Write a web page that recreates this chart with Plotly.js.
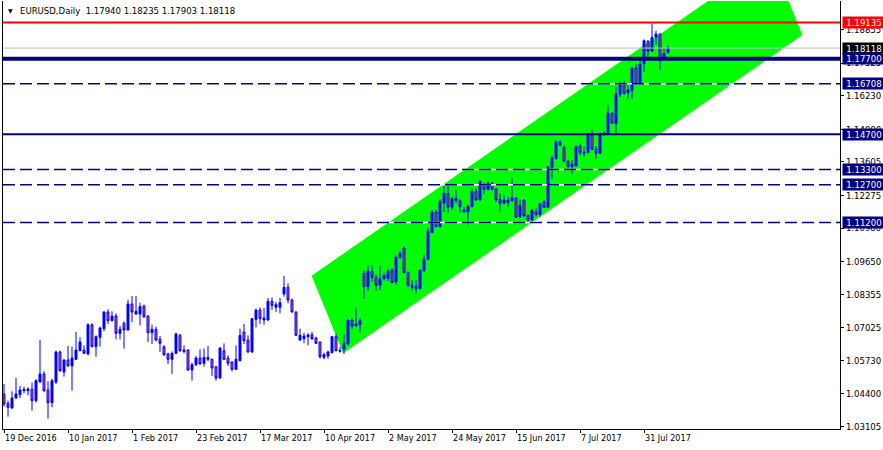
<!DOCTYPE html>
<html><head><meta charset="utf-8">
<script src="https://cdn.plot.ly/plotly-3.0.1.min.js"></script>
<style>html,body{margin:0;padding:0;background:#fff}#chart{width:883px;height:450px}</style>
</head><body><div id="chart"></div>
<script>
const symbol = "EURUSD,Daily";
const lastBarText = "1.17940 1.18235 1.17903 1.18118";
const dateLabels = ["19 Dec 2016","10 Jan 2017","1 Feb 2017","23 Feb 2017","17 Mar 2017","10 Apr 2017","2 May 2017","24 May 2017","15 Jun 2017","7 Jul 2017","31 Jul 2017"];
const dateLabelBars = [0,16,32,48,64,80,96,112,128,144,160];

const open = [
1.04397,1.04027,1.03842,1.04238,1.04371,1.04529,1.04529,1.04582,1.04133,1.04873,
1.05190,1.04556,1.04053,1.04873,1.06063,1.05270,1.05746,1.05508,1.05772,1.06116,
1.06142,1.05984,1.07147,1.06275,1.06645,1.06989,1.07650,1.07306,1.07491,1.06803,
1.07200,1.06936,1.07967,1.07570,1.07570,1.07887,1.07490,1.06829,1.06962,1.06565,
1.06274,1.05983,1.05772,1.06009,1.06724,1.06142,1.06142,1.05348,1.05560,1.05824,
1.05613,1.05772,1.05772,1.05481,1.05031,1.06115,1.05824,1.05666,1.05375,1.05719,
1.06856,1.06538,1.06062,1.07358,1.07728,1.07332,1.07332,1.08072,1.07834,1.07834,
1.08363,1.08627,1.08125,1.07649,1.06538,1.06591,1.06671,1.06750,1.06618,1.06459,
1.05851,1.05904,1.06036,1.06671,1.06089,1.06168,1.06380,1.07332,1.07094,1.07147,
1.09184,1.08655,1.09263,1.09025,1.08708,1.08972,1.08972,1.09316,1.08840,1.09818,
1.10188,1.09210,1.08628,1.08681,1.08575,1.09289,1.09739,1.10797,1.11616,1.11035,
1.11960,1.12357,1.11801,1.12066,1.12066,1.11616,1.11616,1.11828,1.12436,1.12092,
1.12700,1.12515,1.12753,1.12542,1.12119,1.11960,1.11986,1.12066,1.12171,1.11431,
1.12092,1.11484,1.11299,1.11643,1.11510,1.12013,1.11801,1.13388,1.13732,1.14393,
1.14181,1.13626,1.13520,1.13441,1.14234,1.13943,1.13970,1.14684,1.14102,1.13943,
1.14684,1.14710,1.15530,1.15107,1.16270,1.16667,1.16350,1.16429,1.17328,1.16693,
1.17487,1.18386,1.17989,1.18544,1.18677,1.17698,1.17940];
const high = [
1.04794,1.04133,1.04503,1.05032,1.04714,1.04688,1.04662,1.04847,1.04979,1.06539,
1.05296,1.04900,1.05005,1.06116,1.06116,1.05772,1.06301,1.06275,1.06856,1.06645,
1.06327,1.07200,1.07200,1.06724,1.07068,1.07676,1.07755,1.07676,1.07597,1.07094,
1.07279,1.08126,1.08284,1.08284,1.08019,1.07940,1.07517,1.07147,1.07067,1.06697,
1.06327,1.06036,1.06089,1.06829,1.06776,1.06327,1.06168,1.05639,1.05904,1.06168,
1.06195,1.06300,1.05798,1.05507,1.06248,1.06406,1.05930,1.05692,1.06327,1.06988,
1.07173,1.06724,1.07411,1.07781,1.07834,1.07808,1.08204,1.08231,1.08046,1.08204,
1.09077,1.08786,1.08178,1.07675,1.06988,1.06829,1.06803,1.06856,1.06671,1.06485,
1.06036,1.06115,1.06697,1.06776,1.06274,1.06776,1.07358,1.07385,1.07808,1.07412,
1.09289,1.09501,1.09501,1.09131,1.09474,1.09210,1.09369,1.09395,1.09898,1.10056,
1.10241,1.09263,1.08919,1.08919,1.09342,1.09924,1.10982,1.11696,1.11696,1.12119,
1.12674,1.12674,1.12225,1.12489,1.12119,1.11801,1.11907,1.12542,1.12568,1.12859,
1.12780,1.12833,1.12806,1.12568,1.12357,1.12277,1.12224,1.12965,1.12224,1.12119,
1.12119,1.11510,1.11722,1.11775,1.11986,1.12092,1.13441,1.13864,1.14472,1.14472,
1.14261,1.13679,1.13679,1.14261,1.14340,1.14208,1.14763,1.14895,1.14234,1.14789,
1.14816,1.15847,1.15583,1.16588,1.16799,1.16826,1.16640,1.17381,1.17487,1.17645,
1.18465,1.18439,1.19100,1.18809,1.18703,1.18121,1.18235];
const low = [
1.03895,1.03498,1.03815,1.04212,1.04238,1.04424,1.04344,1.03736,1.04053,1.04847,
1.04476,1.03419,1.03868,1.04794,1.05270,1.05085,1.05481,1.04529,1.05746,1.06089,
1.05984,1.05931,1.06248,1.05878,1.06275,1.06883,1.07174,1.07279,1.06565,1.06565,
1.06195,1.06909,1.07253,1.07544,1.07120,1.07411,1.06459,1.06380,1.06485,1.06062,
1.05904,1.05586,1.05190,1.05983,1.06062,1.06009,1.05322,1.04925,1.05507,1.05560,
1.05481,1.05692,1.05110,1.04925,1.05005,1.05745,1.05507,1.05296,1.05348,1.05692,
1.06380,1.06036,1.06036,1.07041,1.07173,1.07147,1.07305,1.07728,1.07649,1.07596,
1.08257,1.07993,1.07623,1.06697,1.06512,1.06406,1.06327,1.06538,1.06380,1.05798,
1.05772,1.05798,1.06009,1.06089,1.06036,1.05983,1.06327,1.06989,1.07068,1.06830,
1.08179,1.08496,1.08840,1.08496,1.08522,1.08893,1.08866,1.08787,1.08734,1.09765,
1.09184,1.08628,1.08496,1.08390,1.08549,1.09236,1.09712,1.10770,1.11008,1.11008,
1.11616,1.11590,1.11696,1.11960,1.11590,1.11590,1.11114,1.11801,1.12066,1.12066,
1.12330,1.12462,1.12462,1.12013,1.11643,1.11934,1.11828,1.12013,1.11378,1.11378,
1.11431,1.11219,1.11272,1.11431,1.11431,1.11775,1.11775,1.12912,1.13705,1.14234,
1.13599,1.13335,1.13123,1.13414,1.13864,1.13811,1.13943,1.14075,1.13732,1.13917,
1.14657,1.14684,1.15107,1.14737,1.16164,1.16270,1.16112,1.16112,1.16667,1.16667,
1.17169,1.17751,1.17963,1.18254,1.17249,1.17672,1.17903];
const close = [
1.04000,1.03868,1.04238,1.04397,1.04556,1.04582,1.04595,1.04133,1.04926,1.05190,
1.04529,1.04053,1.04926,1.06063,1.05323,1.05746,1.05508,1.05825,1.06142,1.06460,
1.06010,1.07147,1.06275,1.06671,1.07015,1.07650,1.07306,1.07491,1.06803,1.06962,
1.06936,1.07967,1.07650,1.07676,1.07861,1.07464,1.06829,1.06962,1.06538,1.06406,
1.05957,1.05772,1.06009,1.06776,1.06115,1.06076,1.05348,1.05560,1.05824,1.05586,
1.05851,1.05851,1.05428,1.05031,1.06221,1.05772,1.05613,1.05375,1.05772,1.06724,
1.06512,1.06062,1.07385,1.07728,1.07385,1.07411,1.08072,1.07913,1.07940,1.08019,
1.08627,1.08125,1.07649,1.06724,1.06724,1.06697,1.06737,1.06591,1.06406,1.05877,
1.05957,1.06062,1.06671,1.06115,1.06128,1.06406,1.07332,1.07094,1.07174,1.07306,
1.08655,1.09263,1.09025,1.08708,1.08972,1.09104,1.09263,1.08813,1.09818,1.09977,
1.09210,1.08708,1.08708,1.08575,1.09316,1.09739,1.10849,1.11616,1.11035,1.12039,
1.12357,1.11801,1.12145,1.12172,1.11828,1.11695,1.11854,1.12436,1.12092,1.12833,
1.12515,1.12753,1.12515,1.12092,1.11960,1.12092,1.12092,1.12171,1.11405,1.11881,
1.11457,1.11299,1.11695,1.11510,1.11934,1.11801,1.13414,1.13758,1.14393,1.14261,
1.13626,1.13414,1.13414,1.14208,1.13970,1.13983,1.14710,1.14102,1.13943,1.14684,
1.14750,1.15530,1.15133,1.16297,1.16667,1.16323,1.16455,1.17328,1.16693,1.17487,
1.18412,1.17989,1.18544,1.18677,1.17672,1.17910,1.18118];

const yTicks = [1.03105,1.04400,1.05730,1.07025,1.08355,1.09650,1.10980,1.12275,1.13605,1.14900,1.16230,1.17525,1.18855];
const levels = [1.19135,1.17700,1.16708,1.14700,1.13300,1.12700,1.11200];
const bidPrice = 1.18118;
const channelBars = [76.9, 84.8, 199.6, 191.7];
const channelPrices = [1.09089, 1.06011, 1.18637, 1.21715];

// styles (kept apart from data)
const levelStyles = [
  {color:'#ff0000', width:2, dashed:false},
  {color:'#000080', width:4, dashed:false},
  {color:'#000080', width:1.5, dashed:true},
  {color:'#000080', width:2, dashed:false},
  {color:'#000080', width:1.5, dashed:true},
  {color:'#000080', width:1.5, dashed:true},
  {color:'#000080', width:1.5, dashed:true}
];
const FONT = "Tahoma, 'DejaVu Sans Condensed', 'Liberation Sans', sans-serif";
const bars = open.map((_, i) => i);

const shapes = [];
let path = '';
channelBars.forEach((b, k) => { path += (k ? ' L ' : 'M ') + b + ',' + channelPrices[k]; });
path += ' Z';
shapes.push({type:'path', xref:'x', yref:'y', path:path, fillcolor:'#00ff00', line:{width:0}, layer:'below'});
shapes.push({type:'line', xref:'paper', yref:'y', x0:0, x1:1, y0:bidPrice, y1:bidPrice, line:{color:'#c0c0c0', width:1}, layer:'above'});
levels.forEach((lv, k) => {
  const st = levelStyles[k];
  if (st.dashed) {
    shapes.push({type:'line', xref:'paper', yref:'y', x0:0, x1:1, y0:lv, y1:lv, line:{color:'#ffffff', width:st.width}, layer:'above'});
  }
  shapes.push({type:'line', xref:'paper', yref:'y', x0:0, x1:1, y0:lv, y1:lv,
    line:{color:st.color, width:st.width, dash: st.dashed ? '12px,5px' : 'solid'}, layer:'above'});
});

const annotations = [];
function priceBox(v, bg) {
  annotations.push({xref:'paper', yref:'y', x:1, y:v, xanchor:'left', yanchor:'middle', xshift:2,
    text: v.toFixed(5), showarrow:false, bgcolor:bg, borderpad:1, width:40, height:9, align:'center', valign:'middle',
    font:{family:FONT, size:9.5, color:'#ffffff'}});
}
priceBox(bidPrice, '#000000');
levels.forEach((lv, k) => priceBox(lv, levelStyles[k].color === '#ff0000' ? '#ff0000' : '#000080'));
annotations.push({xref:'paper', yref:'paper', x:0, y:1, xanchor:'left', yanchor:'top', xshift:3, yshift:-4,
  text:'▼', showarrow:false, font:{family:'DejaVu Sans', size:6, color:'#000'}});
annotations.push({xref:'paper', yref:'paper', x:0, y:1, xanchor:'left', yanchor:'top', xshift:15, yshift:-2,
  text: symbol + '\u00a0\u00a0' + lastBarText, showarrow:false, font:{family:FONT, size:9.5, color:'#000'}});

const trace = {
  type:'candlestick', x:bars, open:open, high:high, low:low, close:close,
  increasing:{line:{color:'#0000ff', width:1}, fillcolor:'#0000ff'},
  decreasing:{line:{color:'#0000ff', width:1}, fillcolor:'#f0503c'},
  whiskerwidth:0, hoverinfo:'skip', showlegend:false
};

const layout = {
  width:883, height:450,
  margin:{l:3, r:43, t:1, b:21, pad:0},
  paper_bgcolor:'#ffffff', plot_bgcolor:'#ffffff',
  showlegend:false,
  xaxis:{range:[-0.25, 209], showgrid:false, zeroline:false, showline:true, linecolor:'#000', linewidth:1,
    ticks:'outside', ticklen:3, tickcolor:'#000', tickvals:dateLabelBars, ticktext:dateLabels,
    ticklabelposition:'outside right', tickfont:{family:FONT, size:9, color:'#000'},
    rangeslider:{visible:false}, fixedrange:true},
  yaxis:{side:'right', range:[1.03008, 1.19986], showgrid:false, zeroline:false, showline:true, mirror:true,
    linecolor:'#000', linewidth:1, ticks:'outside', ticklen:3, tickcolor:'#000',
    tickvals:yTicks, tickformat:'.5f', tickfont:{family:FONT, size:9.5, color:'#000'}, fixedrange:true},
  shapes:shapes, annotations:annotations
};
Plotly.newPlot('chart', [trace], layout, {displayModeBar:false, staticPlot:true});
</script>
</body></html>
